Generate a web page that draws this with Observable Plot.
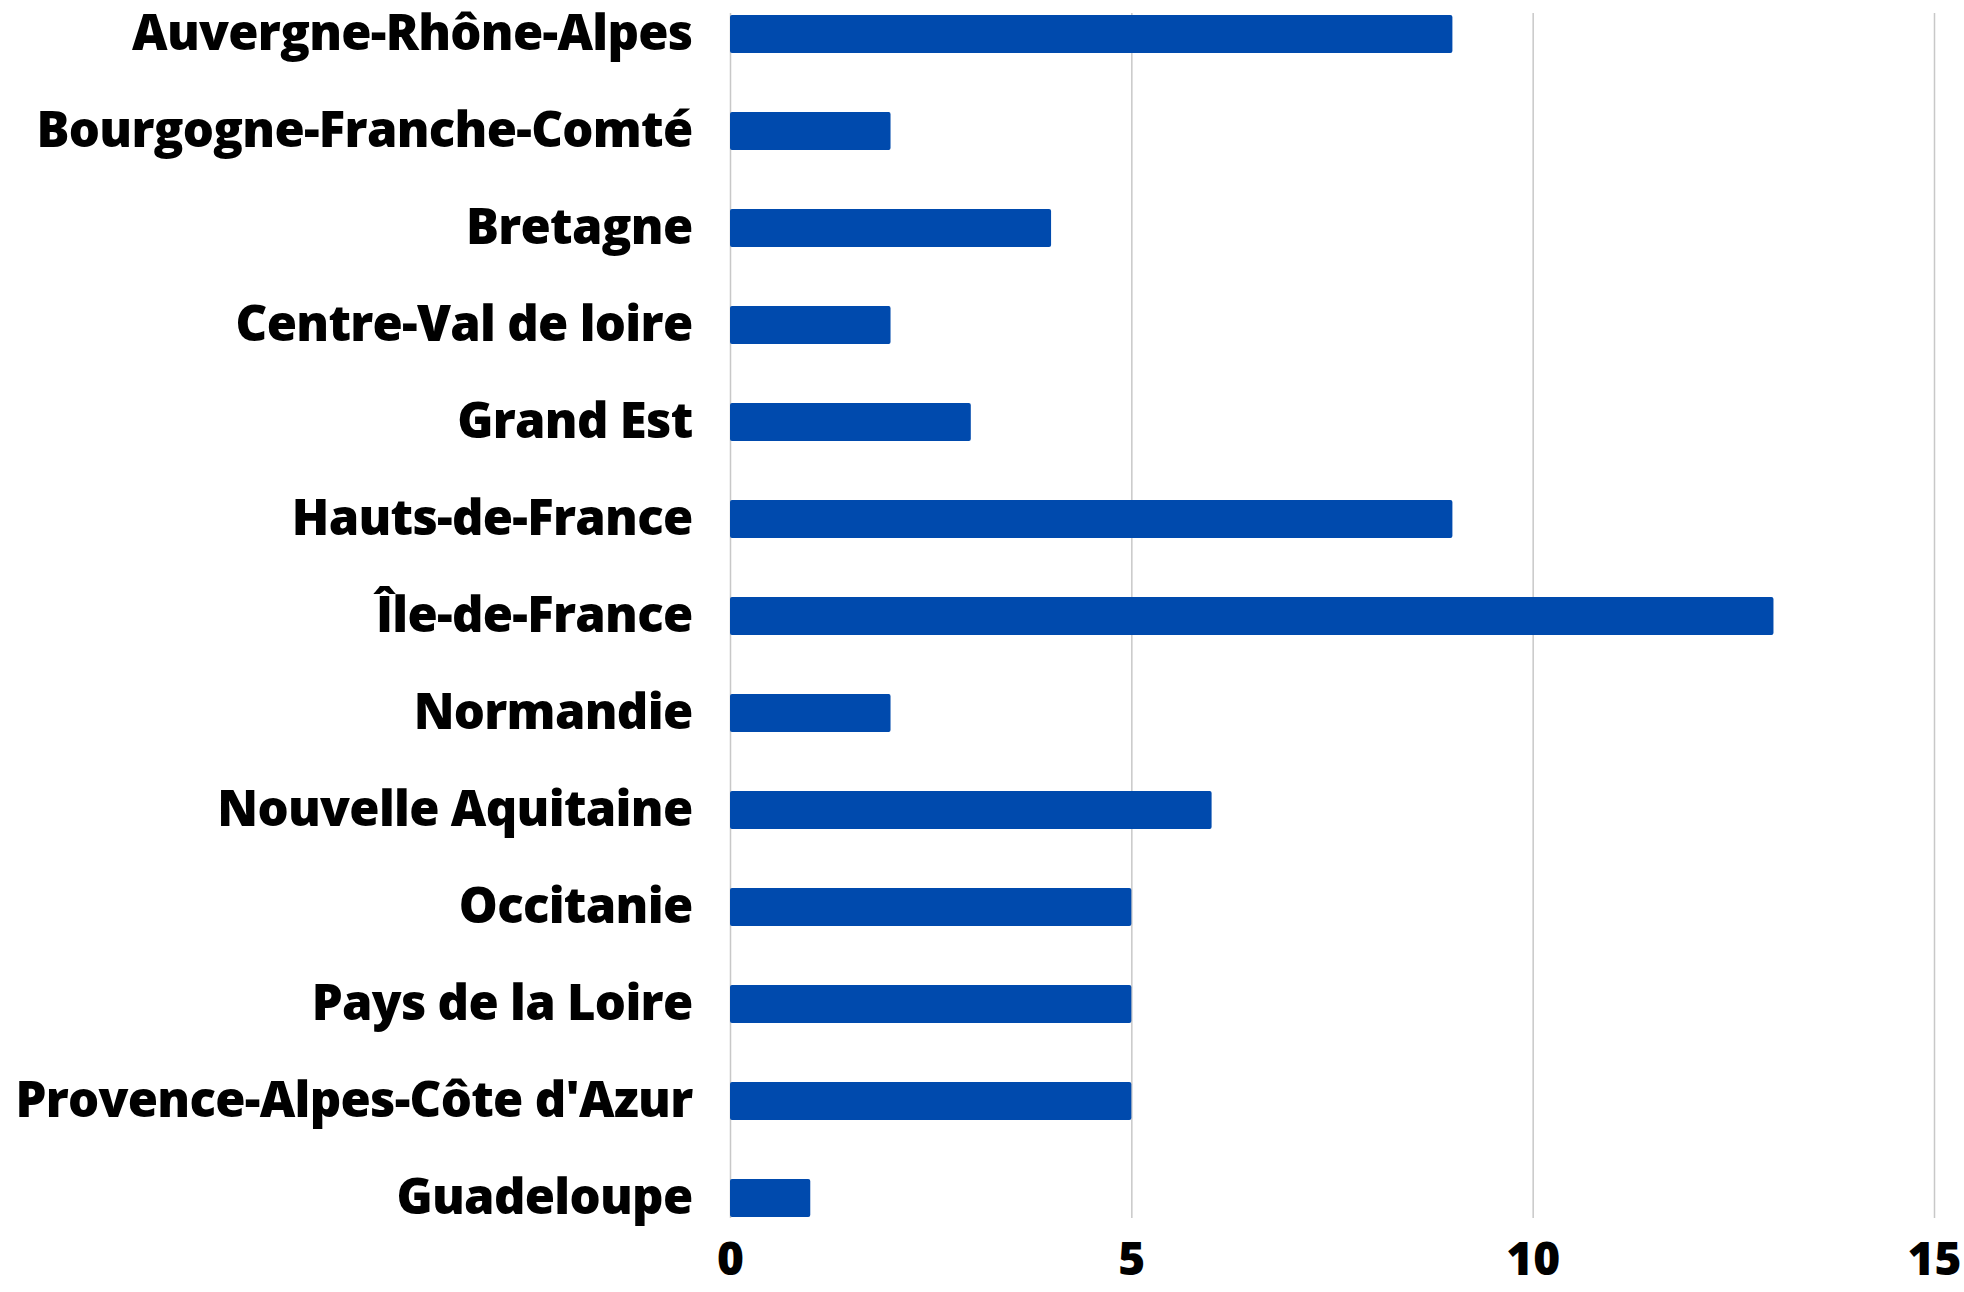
<!DOCTYPE html>
<html>
<head>
<meta charset="utf-8">
<script src="https://cdn.jsdelivr.net/npm/d3@7"></script>
<script src="https://cdn.jsdelivr.net/npm/@observablehq/plot@0.6"></script>
<style>
  html, body { margin: 0; padding: 0; background: #fff; }
  #chart svg { display: block; }
  #chart svg .ylab text { letter-spacing: -0.7px; }
</style>
</head>
<body>
<div id="chart"></div>
<script>
const regions = [
  "Auvergne-Rhône-Alpes",
  "Bourgogne-Franche-Comté",
  "Bretagne",
  "Centre-Val de loire",
  "Grand Est",
  "Hauts-de-France",
  "Île-de-France",
  "Normandie",
  "Nouvelle Aquitaine",
  "Occitanie",
  "Pays de la Loire",
  "Provence-Alpes-Côte d'Azur",
  "Guadeloupe"
];
const counts = [9, 2, 4, 2, 3, 9, 13, 2, 6, 5, 5, 5, 1];
const xTicks = [0, 5, 10, 15];

const data = regions.map((r, i) => ({region: r, value: counts[i]}));

const chart = Plot.plot({
  width: 1964,
  height: 1292,
  marginTop: 13,
  marginBottom: 74,
  marginLeft: 730,
  marginRight: 30,
  style: {fontFamily: "'Open Sans', sans-serif", fontWeight: 800, fontSize: "50px", color: "#000", background: "#fff"},
  x: {domain: [0, 15], ticks: xTicks, label: null},
  y: {domain: regions, paddingInner: 0.609, paddingOuter: 0, label: null},
  marks: [
    Plot.ruleX(xTicks, {stroke: "#c8c8c8", strokeWidth: 1.5}),
    Plot.barX(data, {x: "value", y: "region", fill: "#004AAD", rx: 2}),
    Plot.axisX({ticks: xTicks, tickSize: 0, tickPadding: 24, fontSize: 46, fontWeight: 800, label: null}),
    Plot.axisY({tickSize: 0, tickPadding: 38, fontSize: 49, fontWeight: 800, label: null, className: "ylab"})
  ]
});
document.getElementById("chart").appendChild(chart);
</script>
</body>
</html>
